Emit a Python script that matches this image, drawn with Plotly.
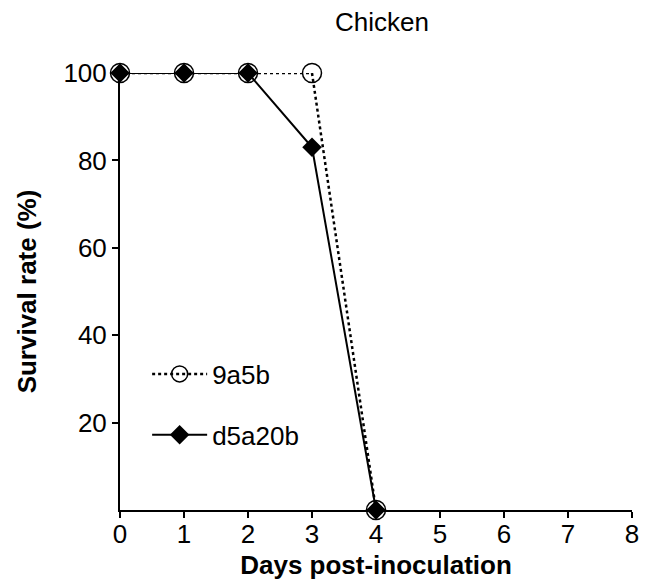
import plotly.graph_objects as go

days = [0, 1, 2, 3, 4]
s_9a5b = [100, 100, 100, 100, 0]
s_d5a20b = [100, 100, 100, 83, 0]
x_ticks = [0, 1, 2, 3, 4, 5, 6, 7, 8]
y_ticks = [20, 40, 60, 80, 100]

fig = go.Figure()
fig.add_trace(go.Scatter(
    x=days, y=s_9a5b, name="9a5b", mode="lines+markers", legendgroup="a",
    line=dict(color="black", width=2.5, dash="dot"),
    marker=dict(symbol="circle-open", size=19, color="black", line=dict(width=1.5)),
    cliponaxis=False))
fig.add_trace(go.Scatter(
    x=days, y=s_d5a20b, name="d5a20b", mode="lines+markers", legendgroup="b",
    line=dict(color="black", width=2),
    marker=dict(symbol="diamond", size=15, color="black"),
    cliponaxis=False))

font = "Liberation Sans, Arial, sans-serif"
fig.update_layout(
    width=649, height=585,
    margin=dict(l=120, r=17, t=73, b=75),
    plot_bgcolor="white", paper_bgcolor="white",
    font=dict(family=font, size=26, color="black"),
    title=dict(text="Chicken", x=0.5887, xanchor="center", y=0.962, yanchor="middle",
               font=dict(size=26)),
    showlegend=True,
    legend=dict(x=0.053, y=0.365, xanchor="left", yanchor="top",
                bgcolor="rgba(0,0,0,0)", font=dict(size=26),
                tracegroupgap=24, itemwidth=55),
    xaxis=dict(range=[0, 8], tickvals=x_ticks, showgrid=False, zeroline=False,
               showline=True, linecolor="black", linewidth=2, automargin=False,
               ticks="outside", ticklen=6, tickwidth=2, tickcolor="black",
               tickfont=dict(size=26), ticklabelstandoff=-6,
               title=dict(text="<b>Days post-inoculation</b>", font=dict(size=26), standoff=8)),
    yaxis=dict(range=[0, 100], tickvals=y_ticks, showgrid=False, zeroline=False,
               showline=True, linecolor="black", linewidth=2, automargin=False,
               ticks="outside", ticklen=6, tickwidth=2, tickcolor="black",
               tickfont=dict(size=26),
               title=dict(text="<b>Survival rate (%)</b>", font=dict(size=26), standoff=19)),
)
fig.write_html("out.html")
